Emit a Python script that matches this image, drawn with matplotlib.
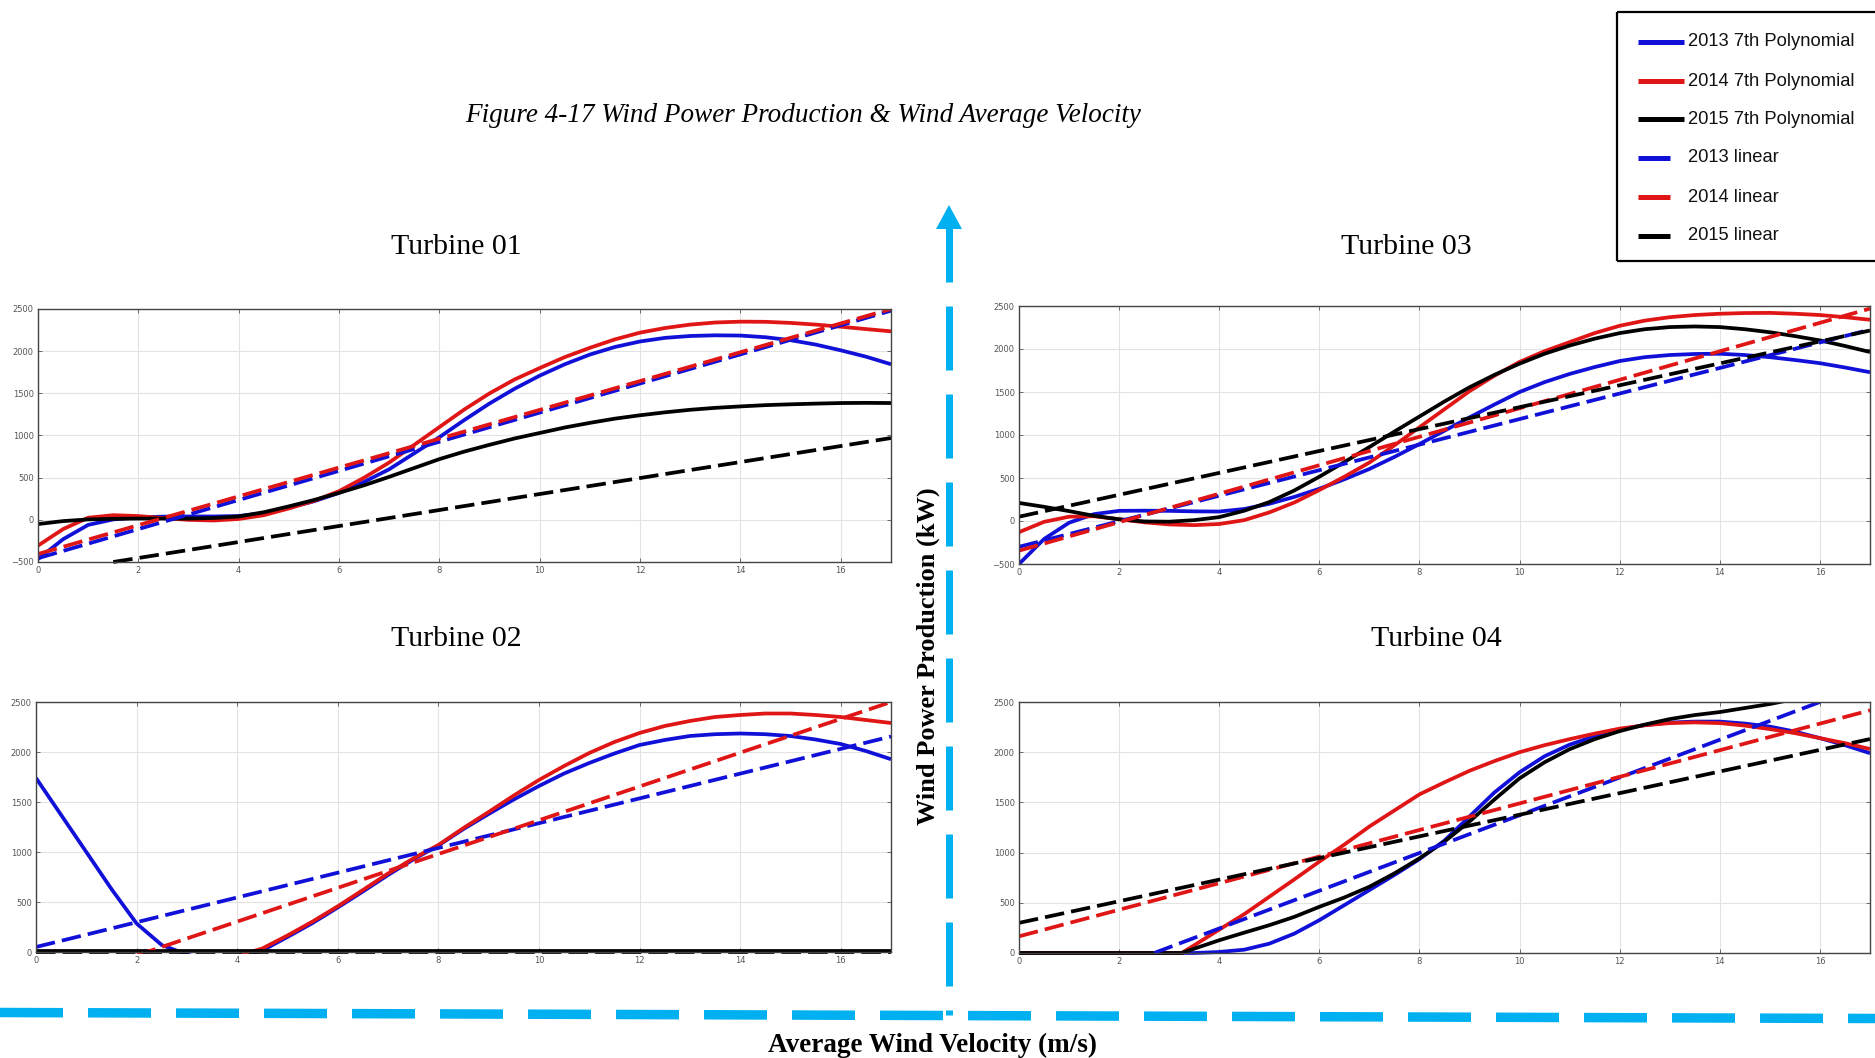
import matplotlib
matplotlib.use('Agg')
import matplotlib.pyplot as plt
from matplotlib.lines import Line2D
from matplotlib.patches import Polygon
from matplotlib.transforms import Bbox, TransformedBbox

# ---------------- data ----------------
X_GRID = [0, 0.5, 1, 1.5, 2, 2.5, 3, 3.5, 4, 4.5, 5, 5.5, 6, 6.5, 7, 7.5, 8, 8.5,
          9, 9.5, 10, 10.5, 11, 11.5, 12, 12.5, 13, 13.5, 14, 14.5, 15, 15.5, 16, 16.5, 17]

# Turbine 01
t01_poly_2013 = [-465, -230, -60, 5, 30, 38, 40, 40, 45, 80, 145, 220, 320, 450, 600, 790, 980, 1185,
                 1380, 1555, 1710, 1845, 1960, 2050, 2115, 2158, 2180, 2188, 2185, 2165, 2130, 2078, 2010, 1935, 1845]
t01_poly_2014 = [-306, -110, 25, 55, 45, 20, 0, -8, 10, 55, 135, 225, 340, 500, 680, 890, 1100, 1310,
                 1500, 1665, 1800, 1930, 2040, 2140, 2220, 2275, 2315, 2340, 2350, 2348, 2335, 2315, 2290, 2262, 2235]
t01_poly_2015 = [-50, -15, 5, 12, 15, 15, 15, 22, 40, 90, 160, 235, 320, 410, 510, 615, 720, 810,
                 890, 965, 1030, 1095, 1150, 1200, 1240, 1275, 1305, 1328, 1345, 1360, 1370, 1378, 1385, 1387, 1385]
t01_lin_2013_x, t01_lin_2013_y = [0, 17], [-455, 2480]
t01_lin_2014_x, t01_lin_2014_y = [0, 17], [-405, 2500]
t01_lin_2015_x, t01_lin_2015_y = [1.5, 17], [-500, 970]

# Turbine 03
t03_poly_2013 = [-500, -210, -20, 80, 118, 120, 118, 112, 110, 140, 200, 280, 375, 485, 605, 745, 895, 1050,
                 1205, 1355, 1500, 1615, 1710, 1790, 1860, 1905, 1930, 1942, 1945, 1930, 1905, 1872, 1835, 1785, 1730]
t03_poly_2014 = [-130, -10, 50, 55, 20, -15, -40, -48, -35, 10, 100, 215, 360, 515, 680, 880, 1090, 1300,
                 1510, 1690, 1850, 1975, 2080, 2185, 2270, 2330, 2370, 2395, 2410, 2418, 2420, 2410, 2395, 2370, 2340]
t03_poly_2015 = [210, 165, 115, 60, 20, -5, -8, 10, 45, 120, 220, 355, 515, 685, 860, 1040, 1215, 1390,
                 1555, 1700, 1830, 1945, 2040, 2120, 2185, 2230, 2255, 2262, 2255, 2230, 2195, 2150, 2100, 2035, 1965]
t03_lin_2013_x, t03_lin_2013_y = [0, 17], [-300, 2225]
t03_lin_2014_x, t03_lin_2014_y = [0, 17], [-345, 2470]
t03_lin_2015_x, t03_lin_2015_y = [0, 17], [50, 2215]

# Turbine 02
t02_poly_2013 = [1740, 1370, 1000, 630, 285, 70, -25, -90, -70, 15, 150, 290, 445, 605, 770, 925, 1065, 1230,
                 1380, 1525, 1660, 1785, 1890, 1985, 2070, 2120, 2160, 2178, 2185, 2178, 2160, 2125, 2080, 2010, 1928]
t02_poly_2014 = [-600, -520, -440, -370, -300, -240, -180, -130, -40, 35, 165, 305, 457, 620, 785, 935, 1070, 1240,
                 1400, 1565, 1720, 1860, 1990, 2100, 2190, 2260, 2310, 2350, 2370, 2385, 2385, 2370, 2350, 2320, 2290]
t02_poly_2015 = [15, 15, 15, 15, 15, 15, 15, 15, 15, 15, 15, 15, 15, 15, 15, 15, 15, 15,
                 15, 15, 15, 15, 15, 15, 15, 15, 15, 15, 15, 15, 15, 15, 15, 15, 15]
t02_lin_2013_x, t02_lin_2013_y = [0, 17], [50, 2155]
t02_lin_2014_x, t02_lin_2014_y = [0, 17], [-372, 2500]
t02_lin_2015_x, t02_lin_2015_y = [0, 17], [5, 5]

# Turbine 04
X_GRID_04 = [0, 0.5, 1, 1.5, 2, 2.5, 3, 3.25, 3.5, 4, 4.5, 5, 5.5, 6, 6.5, 7, 7.5, 8, 8.5,
             9, 9.5, 10, 10.5, 11, 11.5, 12, 12.5, 13, 13.5, 14, 14.5, 15, 15.5, 16, 16.5, 17]
t04_poly_2013 = [0, 0, 0, 0, 0, 0, 0, 0, 0, 10, 33, 93, 193, 327, 477, 627, 777, 935, 1120,
                 1360, 1600, 1800, 1960, 2075, 2160, 2225, 2270, 2295, 2305, 2305, 2285, 2255, 2205, 2140, 2070, 1990]
t04_poly_2014 = [0, 0, 0, 0, 0, 0, 0, 0, 77, 233, 387, 560, 733, 910, 1080, 1260, 1420, 1580, 1700,
                 1815, 1912, 2000, 2070, 2130, 2185, 2235, 2268, 2290, 2297, 2290, 2265, 2230, 2190, 2140, 2090, 2032]
t04_poly_2015 = [0, 0, 0, 0, 0, 0, 0, 0, 43, 127, 203, 277, 360, 460, 553, 660, 793, 943, 1110,
                 1310, 1530, 1740, 1900, 2030, 2130, 2210, 2275, 2330, 2370, 2400, 2440, 2480, 2530, 2580, 2630, 2680]
t04_lin_2013_x, t04_lin_2013_y = [2.7, 16], [0, 2500]
t04_lin_2014_x, t04_lin_2014_y = [0, 17], [166, 2417]
t04_lin_2015_x, t04_lin_2015_y = [0, 17], [300, 2131]

X_TICKS = [0, 2, 4, 6, 8, 10, 12, 14, 16]
Y_TICKS_NEG = [-500, 0, 500, 1000, 1500, 2000, 2500]
Y_TICKS_POS = [0, 500, 1000, 1500, 2000, 2500]

LEGEND_LABELS = ['2013 7th Polynomial', '2014 7th Polynomial', '2015 7th Polynomial',
                 '2013 linear', '2014 linear', '2015 linear']
PANEL_TITLES = ['Turbine 01', 'Turbine 03', 'Turbine 02', 'Turbine 04']
FIG_TITLE = 'Figure 4-17 Wind Power Production & Wind Average Velocity'
X_LABEL = 'Average Wind Velocity (m/s)'
Y_LABEL = 'Wind Power Production (kW)'

# ---------------- styling ----------------
W, H = 1875, 1058
BLUE, RED, BLACK = '#1010D8', '#E01515', '#000000'
ARROW = '#00B0F0'
SERIF = ['Liberation Serif', 'DejaVu Serif']
SANS = ['Liberation Sans', 'DejaVu Sans']
LW = 2.7
DASH = (0, (5.2, 1.9))

fig = plt.figure(figsize=(W / 100, H / 100), dpi=100)
fig.patch.set_facecolor('white')


def fx(px):
    return px / W


def fy(py):
    return 1 - py / H


def make_axes(l, t, r, b, yticks, ylo):
    ax = fig.add_axes([fx(l), fy(b), fx(r) - fx(l), fy(t) - fy(b)])
    ax.set_xlim(0, 17)
    ax.set_ylim(ylo, 2500)
    ax.set_xticks(X_TICKS)
    ax.set_yticks(yticks)
    ax.tick_params(direction='in', top=True, right=True, length=3, width=0.6,
                   labelsize=6, labelcolor='#555555', color='#555555', pad=3)
    ax.grid(True, color='#e3e3e3', lw=0.8)
    ax.set_axisbelow(True)
    for s in ax.spines.values():
        s.set_color('#444444')
        s.set_linewidth(1.0)
    return ax


def draw(ax, x, polys, lins):
    clip = TransformedBbox(Bbox([[0, -0.008], [1, 1]]), ax.transAxes)
    for y, c in zip(polys, [BLUE, RED, BLACK]):
        ln, = ax.plot(x, y, color=c, lw=LW, solid_capstyle='butt', solid_joinstyle='round')
        ln.set_clip_box(clip)
    for (lx, ly), c in zip(lins, [BLUE, RED, BLACK]):
        ln, = ax.plot(lx, ly, color=c, lw=LW, ls=DASH)
        ln.set_clip_box(clip)


ax1 = make_axes(38, 309, 891, 562, Y_TICKS_NEG, -500)
draw(ax1, X_GRID, [t01_poly_2013, t01_poly_2014, t01_poly_2015],
     [(t01_lin_2013_x, t01_lin_2013_y), (t01_lin_2014_x, t01_lin_2014_y), (t01_lin_2015_x, t01_lin_2015_y)])

ax3 = make_axes(1019, 306, 1870, 564, Y_TICKS_NEG, -500)
draw(ax3, X_GRID, [t03_poly_2013, t03_poly_2014, t03_poly_2015],
     [(t03_lin_2013_x, t03_lin_2013_y), (t03_lin_2014_x, t03_lin_2014_y), (t03_lin_2015_x, t03_lin_2015_y)])

ax2 = make_axes(36, 702, 891, 952, Y_TICKS_POS, 0)
draw(ax2, X_GRID, [t02_poly_2013, t02_poly_2014, t02_poly_2015],
     [(t02_lin_2013_x, t02_lin_2013_y), (t02_lin_2014_x, t02_lin_2014_y), (t02_lin_2015_x, t02_lin_2015_y)])

ax4 = make_axes(1019, 702, 1870, 953, Y_TICKS_POS, 0)
draw(ax4, X_GRID_04, [t04_poly_2013, t04_poly_2014, t04_poly_2015],
     [(t04_lin_2013_x, t04_lin_2013_y), (t04_lin_2014_x, t04_lin_2014_y), (t04_lin_2015_x, t04_lin_2015_y)])

# ---------------- texts ----------------
fig.text(fx(803), fy(116), FIG_TITLE, ha='center', va='center', style='italic',
         family=SERIF, fontsize=19.5)
for (px, py), t in zip([(456, 247), (1406, 247), (456, 639), (1436, 639)], PANEL_TITLES):
    fig.text(fx(px), fy(py), t, ha='center', va='center', family=SERIF, fontsize=21.5)
fig.text(fx(932), fy(1045), X_LABEL, ha='center', va='center', weight='bold',
         family=SERIF, fontsize=19.5)
fig.text(fx(928), fy(656), Y_LABEL, ha='center', va='center', weight='bold',
         family=SERIF, fontsize=19, rotation=90)

# ---------------- blue axis arrows ----------------
fig.add_artist(Polygon([[fx(949), fy(205)], [fx(936), fy(229)], [fx(962), fy(229)]],
                       closed=True, transform=fig.transFigure, color=ARROW, lw=0))
vlw = 7 * 0.72
fig.add_artist(Line2D([fx(949.5), fx(949.5)], [fy(218), fy(1015)], transform=fig.transFigure,
                      color=ARROW, lw=vlw, ls=(0, (64 * 0.72 / vlw, 24 * 0.72 / vlw)),
                      solid_capstyle='butt', dash_capstyle='butt'))
hlw = 9.5 * 0.72
fig.add_artist(Line2D([fx(0), fx(1875)], [fy(1012.5), fy(1018.5)], transform=fig.transFigure,
                      color=ARROW, lw=hlw, ls=(0, (63 * 0.72 / hlw, 25 * 0.72 / hlw)),
                      solid_capstyle='butt', dash_capstyle='butt'))

# ---------------- legend (manual, as in the picture) ----------------
box_l, box_t, box_b = 1617, 12, 261
for xs, ys in [([box_l, box_l], [box_t, box_b]), ([box_l, 1880], [box_t, box_t]),
               ([box_l, 1880], [box_b, box_b])]:
    fig.add_artist(Line2D([fx(v) for v in xs], [fy(v) for v in ys], transform=fig.transFigure,
                          color='black', lw=1.6, solid_capstyle='butt'))
leg_y = [42, 81, 119, 158, 197, 236]
leg_c = [BLUE, RED, BLACK, BLUE, RED, BLACK]
leg_end = [1684, 1684, 1684, 1670, 1670, 1670]
for yy, c, xe, lab in zip(leg_y, leg_c, leg_end, LEGEND_LABELS):
    fig.add_artist(Line2D([fx(1638), fx(xe)], [fy(yy), fy(yy)], transform=fig.transFigure,
                          color=c, lw=3.6, solid_capstyle='butt'))
    fig.text(fx(1688), fy(yy), lab, ha='left', va='center', family=SANS, fontsize=13.2,
             color='#111111')

fig.savefig('out.png', dpi=100, facecolor='white')
